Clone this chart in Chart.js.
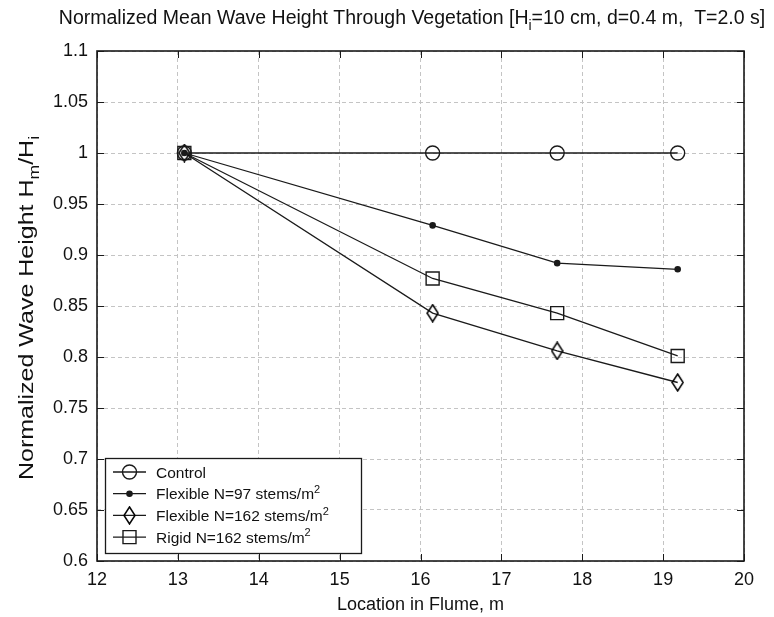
<!DOCTYPE html>
<html><head><meta charset="utf-8">
<script src="https://cdn.jsdelivr.net/npm/chart.js@4.4.1/dist/chart.umd.min.js"></script>
<style>html,body{margin:0;padding:0;background:#fff}#wrap{width:774px;height:617px}</style>
</head><body><div id="wrap"><canvas id="c" width="774" height="617"></canvas></div>
<script>
// ---- data ----
const locations = [13.08, 16.15, 17.69, 19.18];
const controlVals = [1.0, 1.0, 1.0, 1.0];
const flex97Vals = [1.0, 0.929, 0.892, 0.886];
const flex162Vals = [1.0, 0.843, 0.806, 0.775];
const rigid162Vals = [1.0, 0.877, 0.843, 0.801];
const seriesLabels = ['Control', 'Flexible N=97 stems/m^2', 'Flexible N=162 stems/m^2', 'Rigid N=162 stems/m^2'];
const xTicks = [12, 13, 14, 15, 16, 17, 18, 19, 20];
const yTicks = [0.6, 0.65, 0.7, 0.75, 0.8, 0.85, 0.9, 0.95, 1.0, 1.05, 1.1];
const yTickLabels = ['0.6', '0.65', '0.7', '0.75', '0.8', '0.85', '0.9', '0.95', '1', '1.05', '1.1'];
const titleSegs = [['Normalized Mean Wave Height Through Vegetation [H', 0], ['i', -1], ['=10 cm, d=0.4 m,  T=2.0 s]', 0]];
const yTitleSegs = [['Normalized Wave Height H', 0], ['m', -1], ['/H', 0], ['i', -1]];
const xTitle = 'Location in Flume, m';

const INK = '#1a1a1a';
const FONT = '"Liberation Sans", Arial, sans-serif';

// diamond marker (taller than wide)
const diamond = document.createElement('canvas');
diamond.width = 13; diamond.height = 19;
(function(){const g = diamond.getContext('2d');g.strokeStyle = '#000';g.lineWidth = 1.5;g.beginPath();g.moveTo(6.5,1);g.lineTo(12,9.5);g.lineTo(6.5,18);g.lineTo(1,9.5);g.closePath();g.stroke();})();

const mk = vals => locations.map((x, i) => ({x: x, y: vals[i]}));

function segFont(size, kind){ return (kind === 0 ? size : Math.round(size*0.72)) + 'px ' + FONT; }
function richWidth(ctx, segs, size){ let w = 0; segs.forEach(s => { ctx.font = segFont(size, s[1]); w += ctx.measureText(s[0]).width; }); return w; }
function drawRich(ctx, segs, x, y, size, align){
  const w = richWidth(ctx, segs, size);
  let cx = align === 'center' ? x - w/2 : x;
  ctx.textBaseline = 'alphabetic'; ctx.textAlign = 'left';
  segs.forEach(s => {
    ctx.font = segFont(size, s[1]);
    const dy = s[1] === -1 ? size*0.3 : (s[1] === 1 ? -size*0.4 : 0);
    ctx.fillText(s[0], cx, y + dy);
    cx += ctx.measureText(s[0]).width;
  });
}
function labelSegs(lbl){ const p = lbl.split('^'); const out = [[p[0], 0]]; if (p[1]) out.push([p[1], 1]); return out; }

const decor = {
  id: 'decor',
  afterDatasetsDraw(chart){
    const ctx = chart.ctx, a = chart.chartArea, xs = chart.scales.x, ys = chart.scales.y;
    ctx.save();
    ctx.strokeStyle = INK; ctx.lineWidth = 1;
    const tl = 7;
    ctx.beginPath();
    xTicks.forEach(v => { const px = Math.round(xs.getPixelForValue(v)) + 0.5;
      ctx.moveTo(px, a.bottom); ctx.lineTo(px, a.bottom - tl);
      ctx.moveTo(px, a.top); ctx.lineTo(px, a.top + tl); });
    yTicks.forEach(v => { const py = Math.round(ys.getPixelForValue(v)) + 0.5;
      ctx.moveTo(a.left, py); ctx.lineTo(a.left + tl, py);
      ctx.moveTo(a.right, py); ctx.lineTo(a.right - tl, py); });
    ctx.stroke();
    ctx.lineWidth = 1.6;
    ctx.strokeRect(a.left, a.top, a.right - a.left, a.bottom - a.top);
    ctx.restore();
  },
  afterDraw(chart){
    const ctx = chart.ctx, a = chart.chartArea;
    ctx.save();
    ctx.fillStyle = '#111';
    // title
    drawRich(ctx, titleSegs, 412, 24, 19.5, 'center');
    // x title
    ctx.font = '18px ' + FONT; ctx.textAlign = 'center'; ctx.textBaseline = 'alphabetic';
    ctx.fillText(xTitle, (a.left + a.right)/2, 610);
    // y title (slightly elongated along its length, as in the reference)
    ctx.save();
    ctx.translate(33, 308);
    ctx.rotate(-Math.PI/2);
    ctx.scale(1.25, 1);
    drawRich(ctx, yTitleSegs, 0, 0, 20, 'center');
    ctx.restore();
    // legend
    const bx = 105, by = 458, bw = 256, bh = 95;
    ctx.fillStyle = '#fff'; ctx.fillRect(bx, by, bw, bh);
    ctx.strokeStyle = INK; ctx.lineWidth = 1.3; ctx.strokeRect(bx + 0.5, by + 0.5, bw, bh);
    chart.data.datasets.forEach((ds, i) => {
      const ry = 472 + i*21.7;
      ctx.strokeStyle = INK; ctx.lineWidth = 1.3;
      ctx.beginPath(); ctx.moveTo(113, ry); ctx.lineTo(146, ry); ctx.stroke();
      ctx.fillStyle = ds.pointBackgroundColor; ctx.strokeStyle = INK; ctx.lineWidth = ds.pointBorderWidth;
      Chart.helpers.drawPoint(ctx, {pointStyle: ds.pointStyle, radius: ds.pointRadius, rotation: 0, borderWidth: ds.pointBorderWidth}, 129.5, ry);
      ctx.fillStyle = '#111';
      drawRich(ctx, labelSegs(seriesLabels[i]), 156, ry + 5.5, 15.5, 'left');
    });
    ctx.restore();
  }
};

function pointDs(label, vals, style, radius, fill){
  return { label: label, data: mk(vals), showLine: true, borderColor: INK, borderWidth: 1.3,
    pointStyle: style, pointRadius: radius, pointBorderWidth: 1.4, pointBorderColor: INK,
    pointBackgroundColor: fill, backgroundColor: fill, pointHoverRadius: radius };
}

new Chart(document.getElementById('c'), {
  type: 'scatter',
  data: { datasets: [
    pointDs(seriesLabels[0], controlVals, 'circle', 7, 'rgba(0,0,0,0)'),
    pointDs(seriesLabels[1], flex97Vals, 'circle', 2.6, INK),
    pointDs(seriesLabels[2], flex162Vals, diamond, 9, 'rgba(0,0,0,0)'),
    pointDs(seriesLabels[3], rigid162Vals, 'rect', 9.2, 'rgba(0,0,0,0)')
  ]},
  options: {
    responsive: false, devicePixelRatio: 1, animation: false,
    layout: { padding: { top: 51, left: 0, right: 30, bottom: 0 } },
    plugins: { legend: { display: false }, title: { display: false }, tooltip: { enabled: false } },
    scales: {
      x: { type: 'linear', min: 12, max: 20,
        afterBuildTicks: s => { s.ticks = xTicks.map(v => ({value: v})); },
        afterFit: s => { s.height = 56; },
        grid: { color: '#c4c4c4', lineWidth: 1, drawTicks: false },
        border: { display: false, dash: [4, 3] },
        ticks: { color: '#111', font: { family: FONT, size: 18 }, padding: 8, maxRotation: 0, autoSkip: false, callback: v => String(v) } },
      y: { type: 'linear', min: 0.6, max: 1.1,
        afterBuildTicks: s => { s.ticks = yTicks.map(v => ({value: v})); },
        afterFit: s => { s.width = 97; },
        grid: { color: '#c4c4c4', lineWidth: 1, drawTicks: false },
        border: { display: false, dash: [4, 3] },
        ticks: { color: '#111', font: { family: FONT, size: 18 }, padding: 9, autoSkip: false, callback: (v, i) => yTickLabels[i] } }
    }
  },
  plugins: [decor]
});
</script></body></html>
